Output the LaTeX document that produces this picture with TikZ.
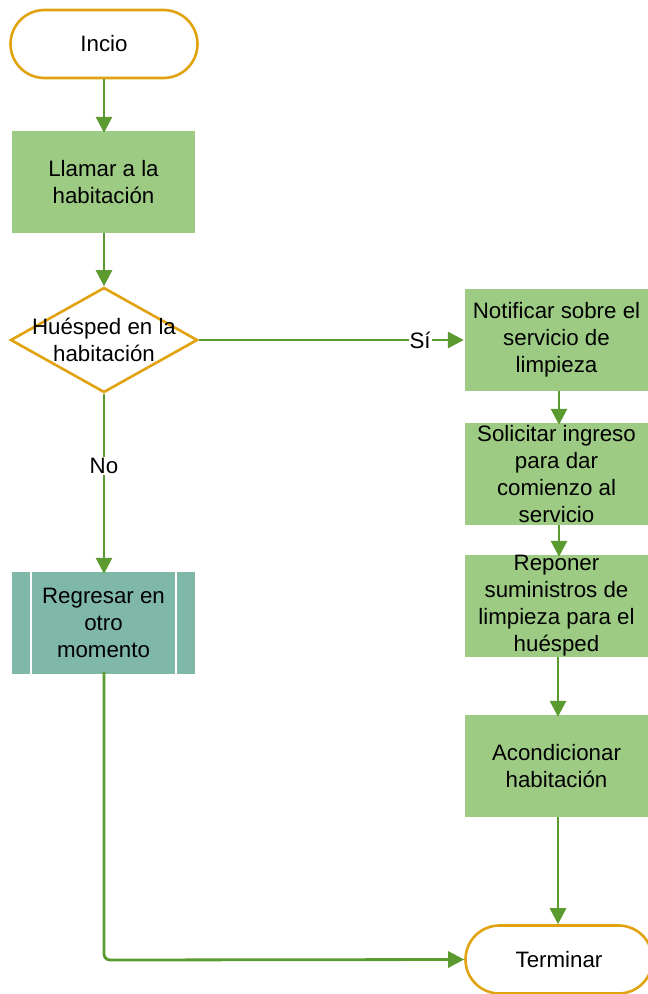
\documentclass[tikz,border=0pt]{standalone}
\usepackage{fontspec}
\setmainfont{Liberation Sans}
\usetikzlibrary{arrows.meta,shapes.geometric}
\definecolor{termline}{HTML}{E0A20E}
\definecolor{procfill}{HTML}{9DCB84}
\definecolor{predfill}{HTML}{7FB8A9}
\definecolor{flowline}{HTML}{5B9A2E}
\begin{document}
\begin{tikzpicture}[x=1pt,y=-1pt,
  every node/.style={font=\fontsize{22.3}{27}\selectfont, align=center},
  terminal/.style={draw=termline, line width=2.6pt, fill=white, rounded corners=34pt,
    minimum width=187pt, minimum height=68pt, inner sep=0pt},
  process/.style={fill=procfill, minimum width=183pt, minimum height=102pt, inner sep=0pt},
  predefined/.style={fill=predfill, minimum width=183pt, minimum height=102pt, inner sep=0pt},
  decision/.style={diamond, draw=termline, line width=2.6pt, fill=white, aspect=1.78,
    minimum width=187pt, minimum height=105pt, inner sep=0pt},
  flow/.style={draw=flowline, line width=2.8pt,
    -{Triangle[length=16pt,width=16pt]}},
  lbl/.style={fill=white, inner sep=1pt}]
\useasboundingbox (0,0) rectangle (648,994);
\clip (0,0) rectangle (648,994);

% left column
\node[terminal] (start) at (104,44) {Incio};
\node[process] (call) at (103.5,182) {Llamar a la\\habitación};
\node[decision] (guest) at (104,340) {};
\node at (104,340) {Huésped en la\\habitación};
\node[predefined] (later) at (103.5,623) {Regresar en\\otro\\momento};
\draw[white, line width=2pt] ([xshift=19pt]later.north west) -- ([xshift=19pt]later.south west);
\draw[white, line width=2pt] ([xshift=-19pt]later.north east) -- ([xshift=-19pt]later.south east);

% right column
\node[process] (notify) at (556.5,340) {Notificar sobre el\\servicio de\\limpieza};
\node[process] (ask) at (556.5,474) {Solicitar ingreso\\para dar\\comienzo al\\servicio};
\node[process] (supply) at (556.5,606) {Reponer\\suministros de\\limpieza para el\\huésped};
\node[process] (prepare) at (556.5,766) {Acondicionar\\habitación};
\node[terminal] (stop) at (559,959.5) {Terminar};

% connectors
\draw[flow] (start.south) -- ([yshift=-2pt]call.north -| start.south);
\draw[flow] (call.south -| guest.north) -- (guest.north);
\draw[flow] (guest.east) -- node[lbl, pos=0.835] {Sí} ([xshift=-1pt]notify.west);
\draw[flow] (guest.south) -- node[lbl, pos=0.4] {No} ([yshift=-2pt]later.north -| guest.south);
\draw[flow] (notify.south -| 559,0) -- ([yshift=-2pt]ask.north -| 559,0);
\draw[flow] (ask.south -| 559,0) -- ([yshift=-2pt]supply.north -| 559,0);
\draw[flow] (supply.south -| 558,0) -- ([yshift=-2pt]prepare.north -| 558,0);
\draw[flow] (prepare.south -| 558,0) -- (stop.north -| 558,0);
\draw[flow, rounded corners=6pt] ([yshift=2pt]later.south -| 104,0) -- (104,960) -- (stop.west);
\end{tikzpicture}
\end{document}
